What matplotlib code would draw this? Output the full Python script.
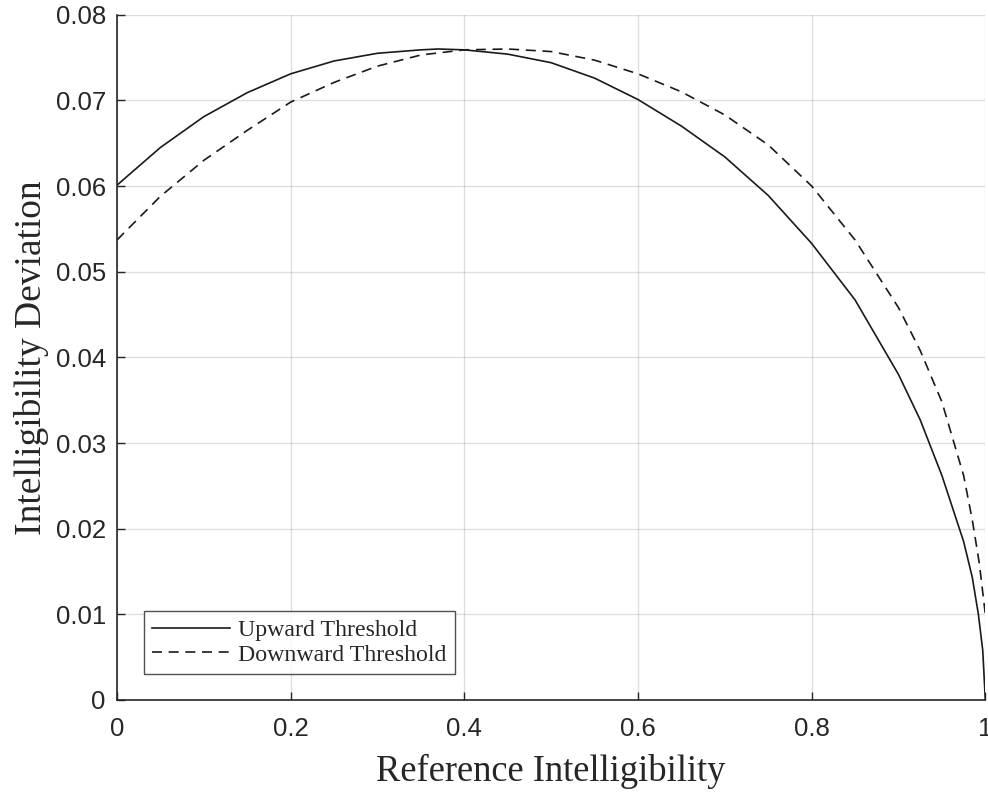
import matplotlib
matplotlib.use("Agg")
import matplotlib.pyplot as plt
import numpy as np

# --- threshold curves (reference intelligibility vs. allowed deviation) ---
up_x = [0.0, 0.05, 0.10, 0.15, 0.20, 0.25, 0.30, 0.35, 0.37, 0.40, 0.45, 0.50,
        0.55, 0.60, 0.65, 0.70, 0.75, 0.80, 0.85, 0.90, 0.925, 0.95, 0.975,
        0.985, 0.992, 0.997, 1.0]
up_y = [0.0601, 0.0645, 0.0681, 0.0709, 0.0731, 0.0746, 0.0755, 0.0759, 0.0760, 0.0759, 0.0754, 0.0744,
        0.0726, 0.0701, 0.0670, 0.0634, 0.0589, 0.0533, 0.0467, 0.0380, 0.0327, 0.0262, 0.0185,
        0.0143, 0.0100, 0.0058, 0.0]

down_x = [0.0, 0.05, 0.10, 0.15, 0.20, 0.25, 0.30, 0.35, 0.40, 0.45, 0.50,
          0.55, 0.60, 0.65, 0.70, 0.75, 0.80, 0.85, 0.90, 0.925, 0.95, 0.975,
          0.985, 0.993, 1.0]
down_y = [0.0537, 0.0588, 0.0630, 0.0665, 0.0698, 0.0721, 0.0740, 0.0753, 0.0759, 0.0760, 0.0757,
          0.0747, 0.0731, 0.0710, 0.0683, 0.0648, 0.0600, 0.0537, 0.0458, 0.0408, 0.0348, 0.0262,
          0.0210, 0.0160, 0.0100]

x_ticks = [0, 0.2, 0.4, 0.6, 0.8, 1]
x_tick_labels = ["0", "0.2", "0.4", "0.6", "0.8", "1"]
y_ticks = [0, 0.01, 0.02, 0.03, 0.04, 0.05, 0.06, 0.07, 0.08]
y_tick_labels = ["0", "0.01", "0.02", "0.03", "0.04", "0.05", "0.06", "0.07", "0.08"]

axis_col = "#262626"
serif = ["Liberation Serif", "DejaVu Serif"]
sans = ["Liberation Sans", "DejaVu Sans"]

fig = plt.figure(figsize=(9.88, 7.92), dpi=100)
ax = fig.add_axes([0.1184, 0.1162, 0.8789, 0.8652])

ax.plot(up_x, up_y, color="#1a1a1a", lw=1.2, label="Upward Threshold")
ax.plot(down_x, down_y, color="#1a1a1a", lw=1.2, dashes=(6, 4), label="Downward Threshold")

ax.set_xlim(0, 1)
ax.set_ylim(0, 0.08)
ax.set_xticks(x_ticks)
ax.set_xticklabels(x_tick_labels, family=sans, fontsize=18.5, color=axis_col)
ax.set_yticks(y_ticks)
ax.set_yticklabels(y_tick_labels, family=sans, fontsize=18.5, color=axis_col)
ax.tick_params(direction="in", length=6, width=1, color=axis_col)
ax.tick_params(axis="x", pad=12)
ax.tick_params(axis="y", pad=8)

ax.grid(True, color="#262626", alpha=0.15, lw=1)
ax.set_axisbelow(True)

for side in ["top", "right"]:
    ax.spines[side].set_visible(False)
for side in ["left", "bottom"]:
    ax.spines[side].set_color(axis_col)
    ax.spines[side].set_linewidth(1.2)

ax.set_xlabel("Reference Intelligibility", family=serif, fontsize=26.3, color=axis_col)
ax.xaxis.set_label_coords(0.5, -0.079)
ax.set_ylabel("Intelligibility Deviation", family=serif, fontsize=27, color=axis_col)
ax.yaxis.set_label_coords(-0.078, 0.5)

leg = ax.legend(loc="lower left", bbox_to_anchor=(0.031, 0.038), prop={"family": serif, "size": 17.2},
                frameon=True, fancybox=False, borderpad=0.35, handlelength=3.26,
                handletextpad=0.33, labelspacing=0.12, borderaxespad=0)
leg.get_frame().set_edgecolor(axis_col)
leg.get_frame().set_linewidth(1.0)
for t in leg.get_texts():
    t.set_color(axis_col)

fig.savefig("out.png", dpi=100)
